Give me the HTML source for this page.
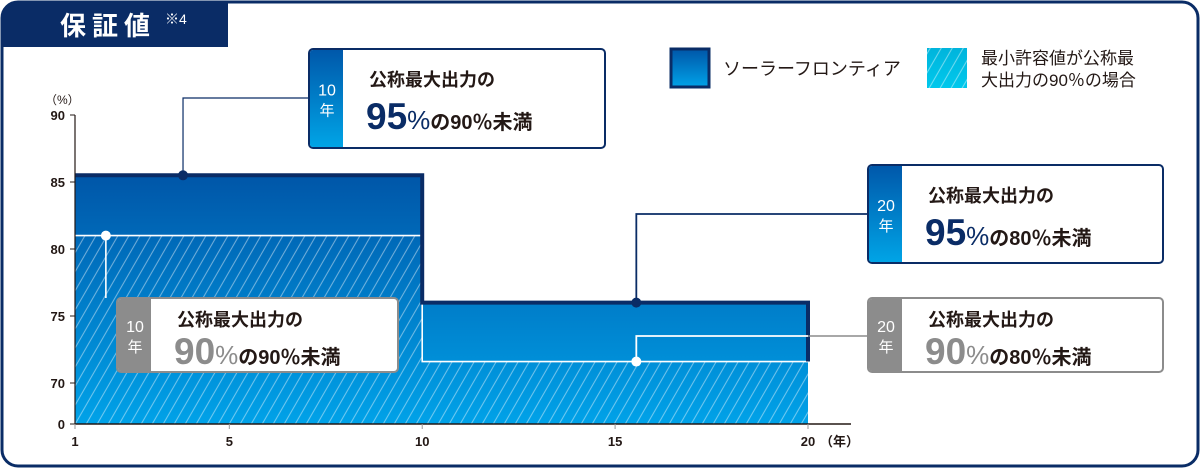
<!DOCTYPE html>
<html><head><meta charset="utf-8">
<style>
html,body{margin:0;padding:0;background:#fff;}
body{width:1200px;height:468px;overflow:hidden;font-family:"Liberation Sans","Noto Sans CJK JP",sans-serif;}
</style></head>
<body>
<svg id="chart" width="1200" height="468" viewBox="0 0 1200 468" xmlns="http://www.w3.org/2000/svg" font-family="Liberation Sans, Noto Sans CJK JP, sans-serif">
<defs>
<linearGradient id="gFill" x1="0" y1="175" x2="0" y2="424" gradientUnits="userSpaceOnUse">
<stop offset="0" stop-color="#0056a8"/><stop offset="1" stop-color="#00a2e8"/>
</linearGradient>
<linearGradient id="gLeg1" x1="0" y1="0" x2="0" y2="1">
<stop offset="0" stop-color="#0056a8"/><stop offset="1" stop-color="#00a2e8"/>
</linearGradient>
<linearGradient id="gTab" x1="0" y1="0" x2="0" y2="1">
<stop offset="0" stop-color="#0058aa"/><stop offset="1" stop-color="#00a4e6"/>
</linearGradient>
<linearGradient id="gLeg2" x1="0" y1="0" x2="0" y2="1">
<stop offset="0" stop-color="#00b4dc"/><stop offset="1" stop-color="#00c8ec"/>
</linearGradient>
<pattern id="hatch" patternUnits="userSpaceOnUse" width="11" height="20" patternTransform="skewX(-30)">
<line x1="1" y1="0" x2="1" y2="20" stroke="#ffffff" stroke-opacity="0.45" stroke-width="1.2"/>
</pattern>
</defs>
<rect x="2" y="2" width="1196" height="464" rx="16" fill="#fff" stroke="#0a2c66" stroke-width="3"/>
<path d="M2 18 Q2 2 18 2 L228 2 L228 47 L2 47 Z" fill="#0a2c66"/>
<text x="60" y="35" fill="#fff" font-size="26" font-weight="bold" letter-spacing="6">保証値</text>
<text x="165" y="24" fill="#fff" font-size="14">※4</text>
<g id="plot"></g>
<g id="axes"></g>
<g>
<rect x="671" y="49" width="38" height="38" fill="url(#gLeg1)" stroke="#0a2c66" stroke-width="3"/>
<text x="723" y="75" font-size="18" fill="#231815">ソーラーフロンティア</text>
<rect x="927" y="48" width="40" height="40" fill="url(#gLeg2)"/>
<rect x="927" y="48" width="40" height="40" fill="url(#hatch)"/>
<text x="981" y="64" font-size="17" fill="#231815">最小許容値が公称最</text>
<text x="981" y="86" font-size="17" fill="#231815">大出力の90％の場合</text>
</g>
<g id="callouts"></g>
</svg>
<script>
const years=[1,10,20];
const frontierValues=[85.5,76];
const minimumValues=[81,71.6];
const yTicks=[90,85,80,75,70,0];
const xTicks=[1,5,10,15,20];
const NS="http://www.w3.org/2000/svg";
function xs(v){return 75+(v-1)*(808-75)/19;}
function ys(v){return v<=0?424:115+(90-v)*13.4;}
function mk(tag,attrs,parent){const e=document.createElementNS(NS,tag);for(const k in attrs)e.setAttribute(k,attrs[k]);parent.appendChild(e);return e;}
const plot=document.getElementById('plot');
const axes=document.getElementById('axes');
const base=ys(0);
let d=`M${xs(years[0])} ${base}`;
for(let i=0;i<frontierValues.length;i++){d+=` L${xs(years[i])} ${ys(frontierValues[i])} L${xs(years[i+1])} ${ys(frontierValues[i])}`;}
d+=` L${xs(years[years.length-1])} ${base} Z`;
const area=mk('path',{d:d,fill:'url(#gFill)'},plot);


let dm=`M${xs(years[0])} ${base}`;
for(let i=0;i<minimumValues.length;i++){dm+=` L${xs(years[i])} ${ys(minimumValues[i])} L${xs(years[i+1])} ${ys(minimumValues[i])}`;}
dm+=` L${xs(years[years.length-1])} ${base} Z`;
const hat=mk('path',{d:dm,fill:'url(#hatch)'},plot);


let dmo=`M${xs(years[0])} ${ys(minimumValues[0])}`;
for(let i=0;i<minimumValues.length;i++){if(i>0)dmo+=` L${xs(years[i])} ${ys(minimumValues[i])}`;dmo+=` L${xs(years[i+1])} ${ys(minimumValues[i])}`;}
const mo=mk('path',{d:dmo,fill:'none',stroke:'#fff','stroke-width':1.6},plot);


let dfo=`M${xs(years[0])} ${ys(frontierValues[0])}`;
for(let i=0;i<frontierValues.length;i++){if(i>0)dfo+=` L${xs(years[i])} ${ys(frontierValues[i])}`;dfo+=` L${xs(years[i+1])} ${ys(frontierValues[i])}`;}
dfo+=` L${xs(years[years.length-1])} ${ys(minimumValues[minimumValues.length-1])}`;
const fo=mk('path',{d:dfo,fill:'none',stroke:'#0a2c66','stroke-width':4},plot);


const ya=mk('line',{x1:75,y1:ys(90),x2:75,y2:base,stroke:'#231815','stroke-width':1.2},axes);


const xa=mk('line',{x1:75,y1:base,x2:851,y2:base,stroke:'#231815','stroke-width':1.5},axes);


yTicks.forEach(v=>{
 mk('line',{x1:70,y1:ys(v),x2:75,y2:ys(v),stroke:'#231815'},axes);
 const t=mk('text',{x:65,y:ys(v)+5,'text-anchor':'end','font-size':13,'font-weight':'bold',fill:'#231815'},axes);
 
 
 t.textContent=v;
});
xTicks.forEach(v=>{
 mk('line',{x1:xs(v),y1:base,x2:xs(v),y2:base+5,stroke:'#999'},axes);
 const t=mk('text',{x:xs(v),y:base+22,'text-anchor':'middle','font-size':13,'font-weight':'bold',fill:'#231815'},axes);
 
 
 t.textContent=v;
});
const yu=mk('text',{x:45,y:104,'font-size':12,fill:'#231815'},axes);


yu.textContent='（%）';
const xu=mk('text',{x:820,y:base+22,'font-size':13,'font-weight':'bold',fill:'#231815'},axes);


xu.textContent='（年）';
const cg=document.getElementById('callouts');
function callout(name,bx,by,bw,bh,dark,yr,big,rest){
 const g=mk('g',{},cg);
 
 
 const col=dark?'#0a2c66':'#8c8c8c';
 mk('rect',{x:bx,y:by,width:bw,height:bh,rx:4,fill:'#fff',stroke:col,'stroke-width':2},g);
 mk('path',{d:`M${bx+1} ${by+4} Q${bx+1} ${by+1} ${bx+4} ${by+1} L${bx+34} ${by+1} L${bx+34} ${by+bh-1} L${bx+4} ${by+bh-1} Q${bx+1} ${by+bh-1} ${bx+1} ${by+bh-4} Z`,fill:dark?'url(#gTab)':'#8c8c8c'},g);
 const cy=by+bh/2;
 mk('text',{x:bx+18,y:cy-3,'text-anchor':'middle','font-size':16,fill:'#fff'},g).textContent=yr;
 mk('text',{x:bx+18,y:cy+17,'text-anchor':'middle','font-size':15,fill:'#fff'},g).textContent='年';
 const tx=bx+60;
 mk('text',{x:tx,y:by+(dark?37:28),'font-size':18,fill:'#231815','font-weight':'bold'},g).textContent='公称最大出力の';
 const t=mk('text',{x:tx-3,y:by+(dark?80:66),'font-size':20,fill:'#231815','font-weight':'bold'},g);
 const s1=mk('tspan',{'font-size':37,fill:dark?'#0a2c66':'#8c8c8c','font-weight':'bold'},t);s1.textContent=big;
 const s2=mk('tspan',{'font-size':26,fill:dark?'#0a2c66':'#8c8c8c','font-weight':'normal'},t);s2.textContent='%';
 const s3=mk('tspan',{},t);s3.textContent=rest;
}
function dot(cx,cy,fill){const c=mk('circle',{cx:cx,cy:cy,r:5,fill:fill},cg);}
const f0=ys(frontierValues[0]),f1=ys(frontierValues[1]),m0=ys(minimumValues[0]),m1=ys(minimumValues[1]);
const px1=xs(3.8),px2=xs(15.55),px3=xs(1.8);
mk('path',{d:`M310 98 L${px1} 98 L${px1} ${f0}`,fill:'none',stroke:'#0a2c66','stroke-width':1.2},cg);
mk('path',{d:`M870 214 L${px2} 214 L${px2} ${f1}`,fill:'none',stroke:'#0a2c66','stroke-width':1.8},cg);
mk('path',{d:`M${px3} ${m0} L${px3} 298`,fill:'none',stroke:'#fff','stroke-width':1.6},cg);
mk('path',{d:`M868 336 L808 336`,fill:'none',stroke:'#8c8c8c','stroke-width':1.6},cg);
mk('path',{d:`M808 336 L${px2} 336 L${px2} ${m1}`,fill:'none',stroke:'#fff','stroke-width':1.8},cg);
dot(px1,f0,'#0a2c66');dot(px2,f1,'#0a2c66');dot(px3,m0,'#fff');dot(px2,m1,'#fff');
callout('callout-10y-95',309,49,296,99,true,'10','95','の90％未満');
callout('callout-20y-95',868,165,295,98,true,'20','95','の80％未満');
callout('callout-10y-90',117,298,281,74,false,'10','90','の90％未満');
callout('callout-20y-90',868,298,295,74,false,'20','90','の80％未満');
</script>
</body></html>
